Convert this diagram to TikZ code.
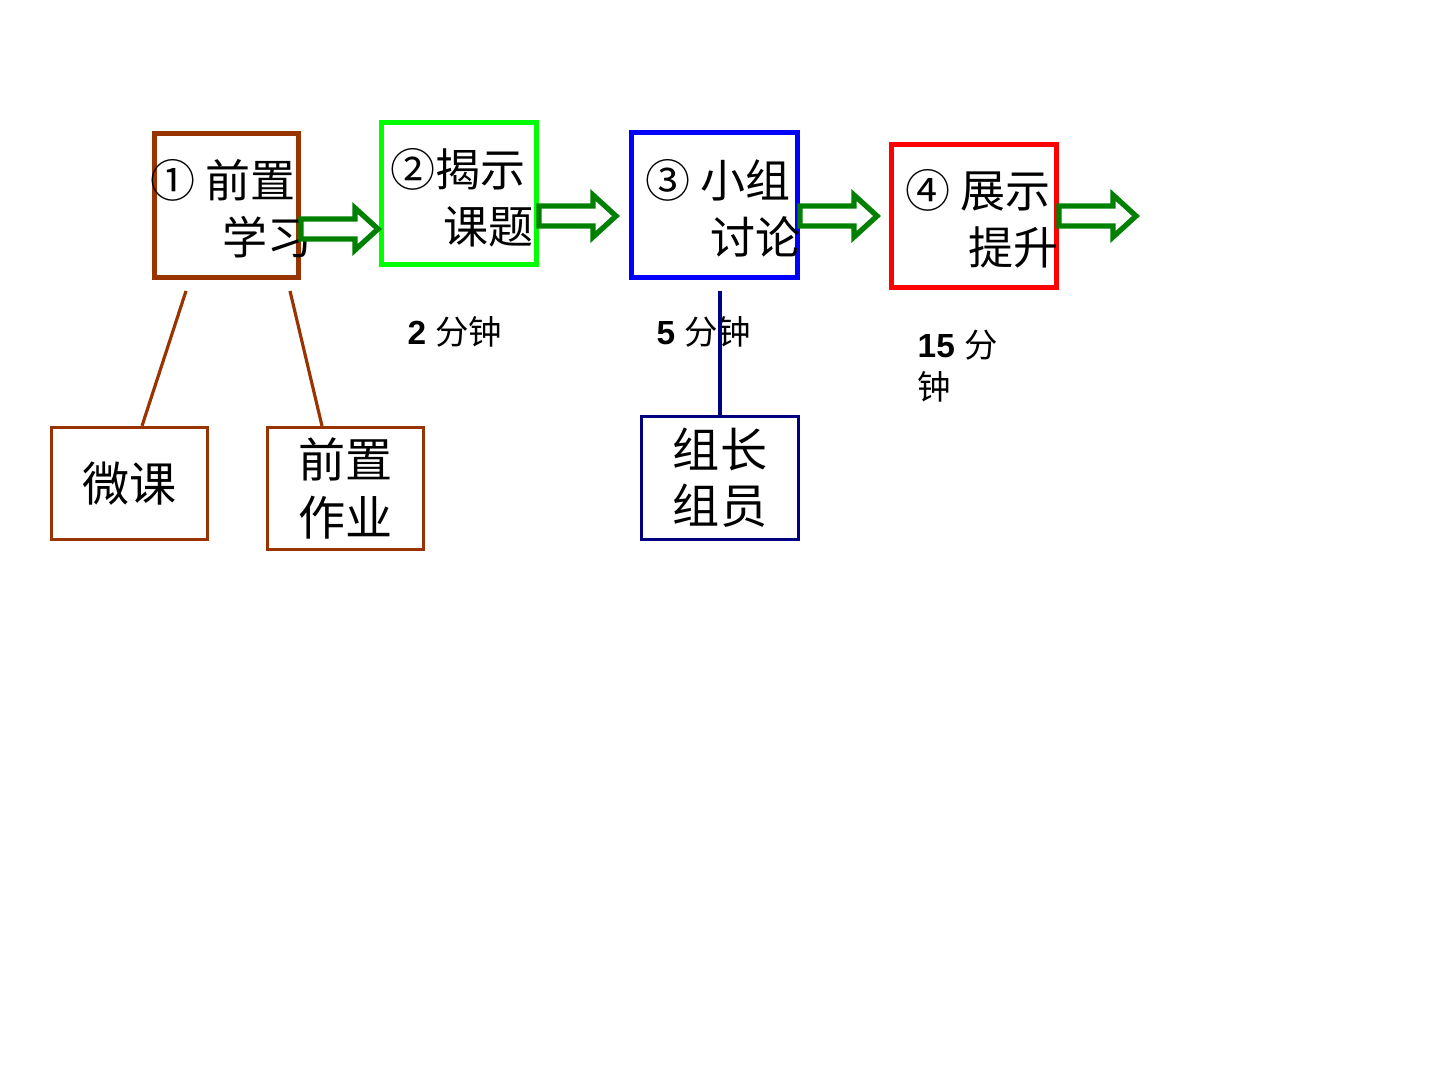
\documentclass[tikz,border=0pt]{standalone}
\usepackage{fontspec}
\setmainfont{Liberation Sans}
\newfontfamily\cjk{Noto Sans CJK SC}
\usepackage{tikz}
\usetikzlibrary{positioning}
\usepackage{xcolor}

\definecolor{boxbrown}{RGB}{153,51,0}
\definecolor{boxgreen}{RGB}{0,255,0}
\definecolor{arrgreen}{RGB}{0,128,0}
\definecolor{boxnavy}{RGB}{0,0,128}

% hollow block arrow, starting at #1
\newcommand{\blockarr}[1]{
\draw[arrgreen, line width=1.5pt, fill=white, line join=miter] #1 ++(0,-10)--++(54,0)--++(0,-11)--++(23,21)--++(-23,21)--++(0,-11)--++(-54,0)--cycle;
}

\begin{document}
\begin{tikzpicture}[x=0.01cm, y=-0.01cm,
  mainbox/.style={draw, line width=1.4pt, fill=none, inner sep=0pt},
  subbox/.style={draw, line width=0.9pt, inner sep=0pt},
  boxtext/.style={inner sep=0pt, anchor=west, align=left, font=\cjk\fontsize{12.8}{16.2}\selectfont},
  subtext/.style={inner sep=0pt, align=center, font=\cjk\fontsize{13.4}{16.4}\selectfont},
  timetext/.style={inner sep=0pt, anchor=west, align=left, font=\fontsize{9.5}{12}\selectfont}]

\useasboundingbox (0,0) rectangle (1440,1080);

% the four steps
\node[mainbox, boxbrown, minimum width=1.44cm, minimum height=1.44cm] (qianzhi) at (226.5,205.5) {};
\node[mainbox, boxgreen, minimum width=1.55cm, minimum height=1.42cm] (jieshi) at (459,193.5) {};
\node[mainbox, blue, minimum width=1.66cm, minimum height=1.45cm] (xiaozu) at (714.5,205) {};
\node[mainbox, red, minimum width=1.65cm, minimum height=1.43cm] (zhanshi) at (974,216) {};

\node[boxtext] (t1) at (150,208.5) {① 前置\\\hspace*{0.72cm}学习};
\node[boxtext] (t2) at (390,197.5) {②揭示\\\hspace*{0.53cm}课题};
\node[boxtext] (t3) at (645,208.5) {③ 小组\\\hspace*{0.65cm}讨论};
\node[boxtext] (t4) at (905,218.5) {④ 展示\\\hspace*{0.63cm}提升};

% arrows between the steps
\blockarr{([yshift=-0.235cm]qianzhi.east)}
\blockarr{([yshift=-0.225cm]jieshi.east)}
\blockarr{([yshift=-0.11cm]xiaozu.east)}
\blockarr{(zhanshi.east)}

% times
\node[timetext] (m2) at (407,332) {\textbf{2} {\cjk 分钟}};
\node[timetext] (m5) at (656,332) {\textbf{5} {\cjk 分钟}};
\node[timetext] (m15) at (917,366) {\textbf{15} {\cjk 分}\\{\cjk 钟}};

% sub boxes
\node[subbox, boxbrown, minimum width=1.56cm, minimum height=1.12cm] (weike) at (129.5,483.5) {};
\node[subtext] at (weike) {微课};
\node[subbox, boxbrown, minimum width=1.56cm, minimum height=1.22cm] (zuoye) at (345.5,488.5) {};
\node[subtext, font=\cjk\fontsize{13.4}{16.5}\selectfont] at (zuoye) {前置\\作业};
\node[subbox, boxnavy, minimum width=1.57cm, minimum height=1.23cm] (zuyuan) at (720,478) {};
\node[subtext, font=\cjk\fontsize{13.4}{15.9}\selectfont] at (zuyuan) {组长\\组员};

\coordinate (c1) at (186,291);
\coordinate (c2) at (290,291);
\coordinate (c3) at (720,291);
\draw[boxbrown, line width=0.9pt] (c1) -- ([xshift=0.125cm]weike.north);
\draw[boxbrown, line width=0.9pt] (c2) -- ([xshift=-0.235cm]zuoye.north);
\draw[boxnavy, line width=0.9pt] (c3) -- (zuyuan.north);

\end{tikzpicture}
\end{document}
